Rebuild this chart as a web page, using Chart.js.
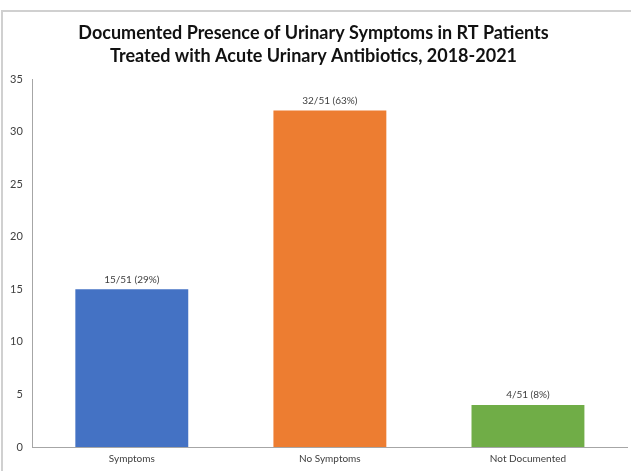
<!DOCTYPE html>
<html>
<head>
<meta charset="utf-8">
<script src="https://cdn.jsdelivr.net/npm/chart.js@4"></script>
<style>
  html, body { margin: 0; padding: 0; background: #fff; }
  #wrap { position: relative; width: 631px; height: 471px; }
</style>
</head>
<body>
<div id="wrap"><canvas id="c" width="631" height="471"></canvas></div>
<script>
const categories = ["Symptoms", "No Symptoms", "Not Documented"];
const counts = [15, 32, 4];
const valueLabels = ["15/51 (29%)", "32/51 (63%)", "4/51 (8%)"];
const barColors = ["#4472C4", "#ED7D31", "#70AD47"];
const titleLines = ["Documented Presence of Urinary Symptoms in RT Patients", "Treated with Acute Urinary Antibiotics, 2018-2021"];

const frame = {
  id: 'frame',
  beforeDraw(chart) {
    const ctx = chart.ctx;
    ctx.save();
    ctx.strokeStyle = '#d0d0d0';
    ctx.lineWidth = 2;
    ctx.beginPath();
    ctx.moveTo(2, 471);
    ctx.lineTo(2, 11);
    ctx.lineTo(631, 11);
    ctx.stroke();
    ctx.restore();
  }
};

const barLabels = {
  id: 'barLabels',
  afterDatasetsDraw(chart) {
    const ctx = chart.ctx;
    const meta = chart.getDatasetMeta(0);
    ctx.save();
    ctx.font = '10px Lato, "DejaVu Sans", sans-serif';
    ctx.fillStyle = '#404040';
    ctx.textAlign = 'center';
    ctx.textBaseline = 'bottom';
    meta.data.forEach((bar, i) => {
      ctx.fillText(valueLabels[i], bar.x, bar.y - 5);
    });
    ctx.restore();
  }
};

new Chart(document.getElementById('c'), {
  type: 'bar',
  data: {
    labels: categories,
    datasets: [{
      data: counts,
      backgroundColor: barColors,
      borderWidth: 0,
      categoryPercentage: 1.0,
      barPercentage: 0.57
    }]
  },
  options: {
    responsive: false,
    animation: false,
    layout: { padding: { left: 0, right: 4, top: 22, bottom: 0 } },
    plugins: {
      legend: { display: false },
      tooltip: { enabled: false },
      title: {
        display: true,
        text: titleLines,
        color: '#111',
        font: { family: 'Lato, "Open Sans", sans-serif', size: 18, weight: 'bold', lineHeight: 1.28 },
        padding: { top: 0, bottom: 11 }
      }
    },
    scales: {
      x: {
        grid: { display: false, drawTicks: false },
        border: { display: true, color: '#a6a6a6', width: 1 },
        ticks: { color: '#404040', font: { family: 'Lato, sans-serif', size: 10 }, padding: 6 }
      },
      y: {
        min: 0, max: 35,
        grid: { display: false, drawTicks: false },
        border: { display: true, color: '#a6a6a6', width: 1 },
        ticks: { stepSize: 5, color: '#404040', font: { family: 'Lato, sans-serif', size: 11 }, padding: 10 }
      }
    }
  },
  plugins: [frame, barLabels]
});
</script>
</body>
</html>
